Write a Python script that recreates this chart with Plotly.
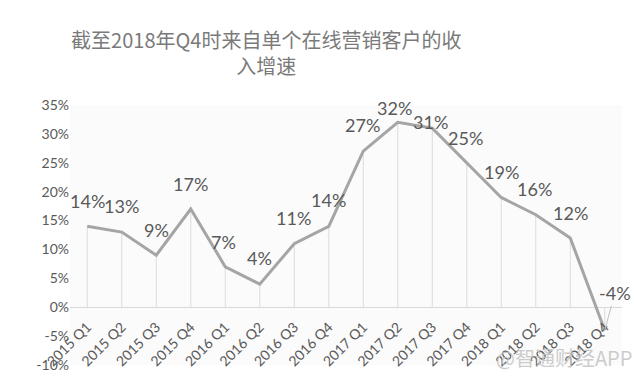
import plotly.graph_objects as go

categories = ["2015 Q1", "2015 Q2", "2015 Q3", "2015 Q4",
              "2016 Q1", "2016 Q2", "2016 Q3", "2016 Q4",
              "2017 Q1", "2017 Q2", "2017 Q3", "2017 Q4",
              "2018 Q1", "2018 Q2", "2018 Q3", "2018 Q4"]
growth = [14, 13, 9, 17, 7, 4, 11, 14, 27, 32, 31, 25, 19, 16, 12, -4]
y_ticks = [-10, -5, 0, 5, 10, 15, 20, 25, 30, 35]

title_text = "截至2018年Q4时来自单个在线营销客户的收<br>入增速"
watermark = "@智通财经APP"

# label offsets (pixels) for data labels, per point
label_dx = [0, 0, 0, 0, -2, 0, -1, 0, -1, -3, -2, -1, 0, -1, 0, 0]
label_dy = [25, 26, 25, 25, 25, 26, 26, 26, 26, 14, 6, 25, 25, 26, 25, 0]

TXT = "#595959"
LINE = "#a5a5a5"

fig = go.Figure()

# drop lines from each point to the zero line
dx, dy = [], []
for c, v in zip(categories, growth):
    dx += [c, c, None]
    dy += [0, v, None]
fig.add_trace(go.Scatter(x=dx, y=dy, mode="lines",
                         line=dict(color="#dcdcdc", width=1),
                         hoverinfo="skip", showlegend=False))

fig.add_trace(go.Scatter(x=categories, y=growth, mode="lines",
                         line=dict(color=LINE, width=3),
                         showlegend=False))

for i, (c, v) in enumerate(zip(categories, growth)):
    if v < 0:
        fig.add_annotation(x=c, y=v, text=f"{v}%", showarrow=True,
                           arrowhead=0, arrowwidth=1, arrowcolor="#bfbfbf",
                           ax=10, ay=-37,
                           font=dict(family="Lato", size=18, color=TXT))
    else:
        fig.add_annotation(x=c, y=v, text=f"{v}%", showarrow=False,
                           xshift=label_dx[i], yshift=label_dy[i],
                           font=dict(family="Lato", size=18, color=TXT))

fig.add_annotation(xref="paper", yref="paper", x=1.022, y=0.027,
                   xanchor="right", yanchor="middle", text=watermark,
                   showarrow=False,
                   font=dict(family="Noto Sans CJK SC", size=20,
                             color="rgba(195,195,195,0.85)"))

fig.update_layout(
    width=634, height=388,
    margin=dict(l=70, r=12, t=105, b=23),
    paper_bgcolor="white",
    plot_bgcolor="#fbfbfb",
    title=dict(text=title_text, x=0.42, xanchor="center",
               y=1 - 48 / 388, yanchor="middle",
               font=dict(family="Noto Sans CJK SC", size=20, color="#7a7a7a")),
    xaxis=dict(type="category", categoryorder="array",
               categoryarray=categories, range=[-0.5, 15.5],
               anchor="free", position=10 / 45,
               showgrid=False, showline=False, ticks="",
               tickangle=-45, ticklabelstandoff=8,
               tickfont=dict(family="Lato", size=14, color=TXT)),
    yaxis=dict(range=[-10, 35], tickvals=y_ticks,
               ticktext=[f"{t}%" for t in y_ticks],
               showgrid=False, zeroline=True, zerolinecolor="#d9d9d9",
               zerolinewidth=1, showline=False, ticks="",
               tickfont=dict(family="Lato", size=14, color=TXT)),
)

fig.write_html("out.html", config={"displayModeBar": False},
               post_script="document.body.style.margin='0';")
